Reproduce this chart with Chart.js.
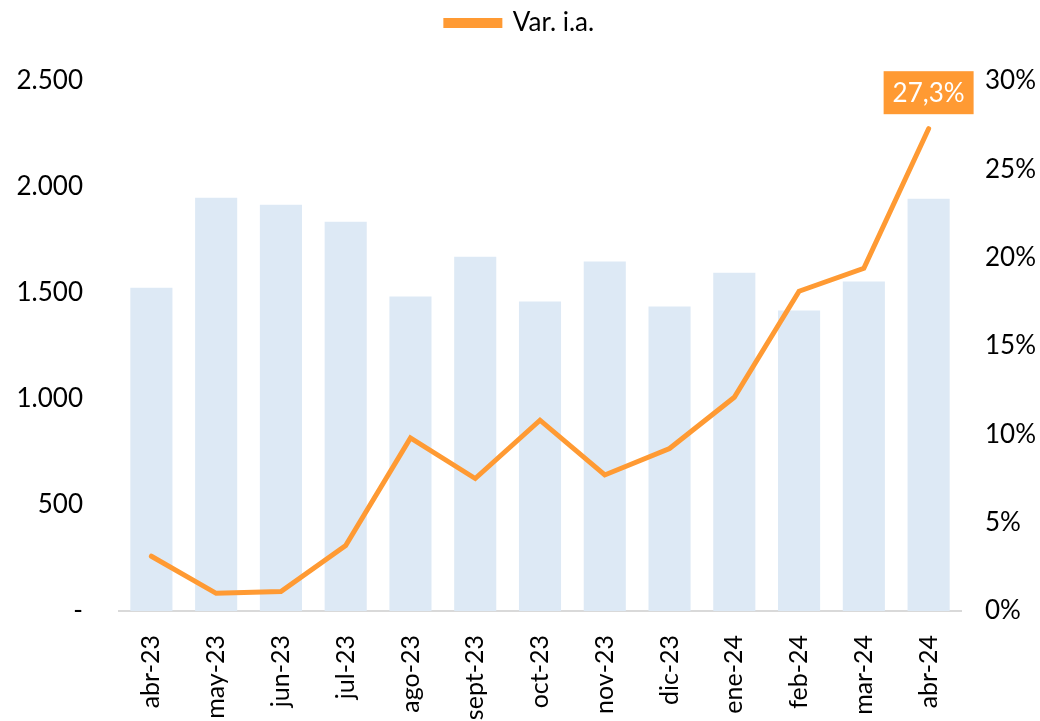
<!DOCTYPE html>
<html><head><meta charset="utf-8">
<script src="https://cdn.jsdelivr.net/npm/chart.js@4.4.1/dist/chart.umd.min.js"></script>
<style>html,body{margin:0;padding:0;background:#fff}#wrap{width:1040px;height:721px}</style>
</head><body><div id="wrap"><canvas id="c" width="1040" height="721"></canvas></div>
<script>
const categories = ["abr-23","may-23","jun-23","jul-23","ago-23","sept-23","oct-23","nov-23","dic-23","ene-24","feb-24","mar-24","abr-24"];
const barValues = [1525,1949,1916,1836,1483,1671,1460,1648,1436,1596,1417,1554,1944];
const varIA = [3.1,1.0,1.1,3.7,9.8,7.5,10.8,7.7,9.2,12.1,18.1,19.4,27.3];
const leftTicks = [0,500,1000,1500,2000,2500];
const rightTicks = [0,5,10,15,20,25,30];

const FONT = "Lato, 'Open Sans', sans-serif";
const ORANGE = "#FF9A33";
const BAR = "#DDE9F5";

function fmtThousands(v){
  if (v === 0) return "-";
  return String(v).replace(/\B(?=(\d{3})+(?!\d))/g, ".");
}

const legendSpace = {
  id: 'legendSpace',
  beforeInit(chart){
    const lg = chart.legend;
    const fit = lg.fit;
    lg.fit = function(){ fit.call(this); this.height += 35; };
  }
};

const lastLabel = {
  id: 'lastLabel',
  afterDatasetsDraw(chart){
    const meta = chart.getDatasetMeta(1);
    const i = varIA.length - 1;
    const pt = meta.data[i];
    const ctx = chart.ctx;
    const txt = varIA[i].toFixed(1).replace('.', ',') + '%';
    ctx.save();
    ctx.font = "26px " + FONT;
    const w = ctx.measureText(txt).width + 18;
    const h = 43;
    const cx = pt.x, cy = pt.y - 36;
    ctx.fillStyle = ORANGE;
    ctx.fillRect(cx - w/2, cy - h/2, w, h);
    ctx.fillStyle = "#fff";
    ctx.textAlign = "center";
    ctx.textBaseline = "middle";
    ctx.fillText(txt, cx, cy + 1);
    ctx.restore();
  }
};

new Chart(document.getElementById('c'), {
  data: {
    labels: categories,
    datasets: [
      { type: 'bar', label: 'Bars', data: barValues, backgroundColor: BAR, yAxisID: 'y',
        barPercentage: 0.65, categoryPercentage: 1.0, order: 2 },
      { type: 'line', label: 'Var. i.a.', data: varIA, borderColor: ORANGE, backgroundColor: ORANGE,
        borderWidth: 5, pointRadius: 0, tension: 0, yAxisID: 'y1', order: 1,
        borderCapStyle: 'round', borderJoinStyle: 'miter' }
    ]
  },
  options: {
    responsive: false,
    animation: false,
    layout: { padding: { top: 0, left: 0, right: 0, bottom: 0 } },
    plugins: {
      legend: {
        position: 'top',
        labels: {
          filter: (item) => item.datasetIndex === 1,
          font: { family: FONT, size: 26 },
          color: '#000',
          boxWidth: 54,
          boxHeight: 5,
          padding: 10
        }
      },
      tooltip: { enabled: false }
    },
    scales: {
      x: {
        grid: { display: false, drawTicks: false },
        border: { display: true, color: '#D9D9D9', width: 2 },
        ticks: { font: { family: FONT, size: 25 }, color: '#000', maxRotation: 90, minRotation: 90, padding: 24, autoSkip: false },
        afterFit(s){ s.height = 110; }
      },
      y: {
        position: 'left', min: 0, max: 2500,
        afterBuildTicks(s){ s.ticks = leftTicks.map(v => ({value: v})); },
        grid: { display: false, drawTicks: false },
        border: { display: false },
        ticks: { font: { family: FONT, size: 26 }, color: '#000', padding: 36, callback: (v) => fmtThousands(v) },
        afterFit(s){ s.width = 119; }
      },
      y1: {
        position: 'right', min: 0, max: 30,
        afterBuildTicks(s){ s.ticks = rightTicks.map(v => ({value: v})); },
        grid: { display: false, drawTicks: false },
        border: { display: false },
        ticks: { font: { family: FONT, size: 26 }, color: '#000', padding: 24, callback: (v) => v + '%' },
        afterFit(s){ s.width = 79; }
      }
    }
  },
  plugins: [legendSpace, lastLabel]
});
</script></body></html>
